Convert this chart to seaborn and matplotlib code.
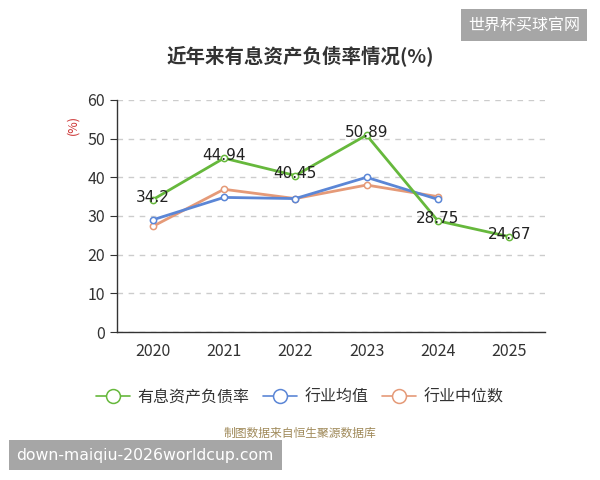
import matplotlib.pyplot as plt
import numpy as np
import pandas as pd
import seaborn as sns
from matplotlib.lines import Line2D

years = ['2020', '2021', '2022', '2023', '2024', '2025']
debt_ratio = [34.2, 44.94, 40.45, 50.89, 28.75, 24.67]       # 有息资产负债率
industry_avg = [29.0, 34.8, 34.5, 40.0, 34.3, np.nan]        # 行业均值
industry_med = [27.3, 36.9, 34.5, 38.0, 35.0, np.nan]        # 行业中位数
series_names = ['有息资产负债率', '行业均值', '行业中位数']
colors = ['#66b83c', '#5b86d6', '#e59a78']

sns.set_style('white')
plt.rcParams['font.family'] = ['Noto Sans CJK SC', 'DejaVu Sans']

rows = []
for name, vals in zip(series_names, [debt_ratio, industry_avg, industry_med]):
    for i, v in enumerate(vals):
        rows.append({'x': i, 'year': years[i], 'value': v, 'series': name})
df = pd.DataFrame(rows).dropna()

fig = plt.figure(figsize=(6, 4.8), dpi=100)
ax = fig.add_axes([0.195, 0.308, 0.713, 0.484])

# back to front: median, average, then the main series
for name, col in list(zip(series_names, colors))[::-1]:
    sub = df[df['series'] == name]
    sns.lineplot(data=sub, x='x', y='value', ax=ax, color=col, linewidth=2,
                 marker='o', markersize=4.5, markerfacecolor='white',
                 markeredgecolor=col, markeredgewidth=1.1, legend=False)

for i, v in enumerate(debt_ratio):
    ax.text(i, v + 0.6, f'{v:g}', ha='center', va='center', fontsize=11,
            color='#222222', family=['DejaVu Sans'])

ax.set_xlim(-0.5, 5.5)
ax.set_ylim(0, 60)
ax.set_yticks(range(0, 61, 10))
ax.set_xticks(range(len(years)))
ax.set_xticklabels(years)
ax.set_xticks(np.arange(-0.5, 6, 1), minor=True)
ax.tick_params(axis='x', which='major', length=0, pad=8, labelsize=11.5, labelcolor='#333333')
ax.tick_params(axis='x', which='minor', length=6, color='#333333', direction='out')
ax.tick_params(axis='y', length=5, color='#333333', direction='out', labelsize=11.5,
               labelcolor='#333333', left=True)
ax.yaxis.grid(True, linestyle=(0, (4, 4)), color='#cccccc', linewidth=1)
ax.set_axisbelow(True)
for s in ['top', 'right']:
    ax.spines[s].set_visible(False)
for s in ['left', 'bottom']:
    ax.spines[s].set_color('#333333')
    ax.spines[s].set_linewidth(1)
ax.set_xlabel('')
ax.set_ylabel('')

fig.text(0.122, 0.74, '(%)', rotation=90, color='#cc3333', fontsize=9, ha='center', va='center')

fig.text(0.5, 0.885, '近年来有息资产负债率情况(%)', ha='center', va='center',
         fontsize=14, fontweight='bold', color='#333333')

hs = [Line2D([0], [0], color=c, linewidth=1.2, marker='o', markersize=10,
             markerfacecolor='white', markeredgecolor=c, markeredgewidth=1.1)
      for c in colors]
fig.legend(hs, series_names, loc='center', bbox_to_anchor=(0.5, 0.172), ncol=3,
           frameon=False, fontsize=11.5, handlelength=2.1, handletextpad=0.5,
           columnspacing=0.85, labelcolor='#333333')

fig.text(0.5, 0.098, '制图数据来自恒生聚源数据库', ha='center', va='center',
         fontsize=8.5, color='#a08a5a')

fig.text(0.873, 0.948, '世界杯买球官网', ha='center', va='center', fontsize=11.5,
         color='white', bbox=dict(boxstyle='square,pad=0.45', facecolor='#a6a6a6', edgecolor='none'))
fig.text(0.242, 0.052, 'down-maiqiu-2026worldcup.com', ha='center', va='center', fontsize=11.3,
         color='white', family=['DejaVu Sans'],
         bbox=dict(boxstyle='square,pad=0.5', facecolor='#a6a6a6', edgecolor='none'))

fig.savefig('out.png', dpi=100)
